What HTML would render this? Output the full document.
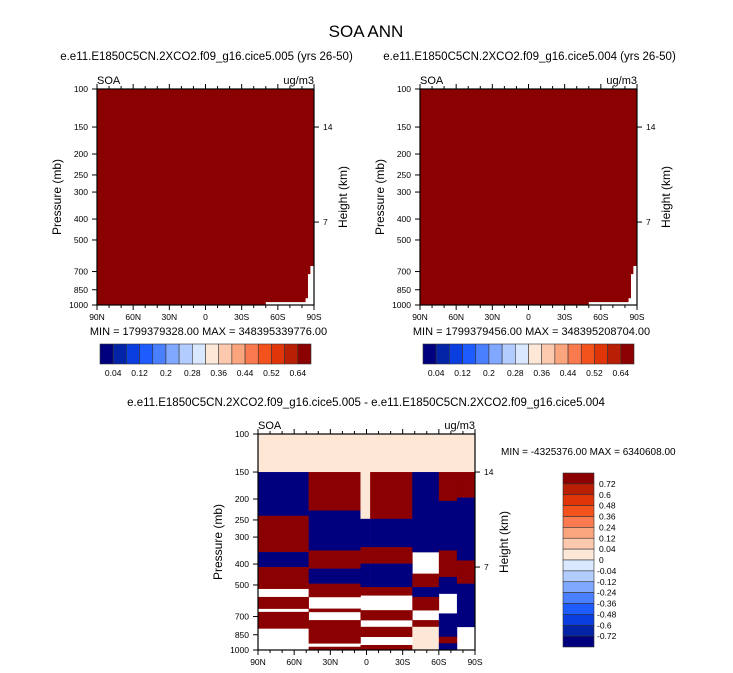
<!DOCTYPE html>
<html><head><meta charset="utf-8"><style>
html,body{margin:0;padding:0;background:#fff;}
svg{display:block;font-family:"Liberation Sans",sans-serif;}
</style></head><body>
<svg id="chart" width="733" height="673" viewBox="0 0 733 673" xmlns="http://www.w3.org/2000/svg">
<text x="366" y="37" font-size="17" text-anchor="middle">SOA ANN</text>
<g id="g"></g>
</svg>
<script>
// ---- data ----
const colors = ["#00007f","#0424a8","#0a3ee0","#1f5cff","#4a80ff","#80a8ff","#b3ccff","#d9e8ff","#fde8d8","#fcc8ae","#fba57e","#f97a4e","#f4521c","#e03509","#b81f04","#8b0000"];
const topLabels = ["0.04","0.12","0.2","0.28","0.36","0.44","0.52","0.64"];
const diffLabels = ["0.72","0.6","0.48","0.36","0.24","0.12","0.04","0","-0.04","-0.12","-0.24","-0.36","-0.48","-0.6","-0.72"];
const pTicks = [100,150,200,250,300,400,500,700,850,1000];
const latTicks = [90,60,30,0,-30,-60,-90];
const latTickLabels = ["90N","60N","30N","0","30S","60S","90S"];
const heightTicks = ["14","7"];
const heightTickP = [150,413];
const missingWedgeLat = [-90,-87,-87,-85,-85,-83,-83,-50,-50,-90];
const missingWedgeP = [660,660,720,720,930,930,970,970,1000,1000];
const diffLatEdges = [90,48,5,-3,-38,-60,-75,-90];
const diffCols = [
 [[100,150,0.02],[150,239,-0.8],[239,352,0.8],[352,413,-0.8],[413,520,0.8],[520,568,null],[568,643,0.8],[643,666,null],[666,794,0.8],[794,1000,null]],
 [[100,150,0.02],[150,226,0.8],[226,346,-0.8],[346,420,0.8],[420,493,-0.8],[493,568,0.8],[568,643,null],[643,666,0.8],[666,727,null],[727,931,0.8],[931,966,null],[966,1000,0.8]],
 [[100,150,0.02],[150,247,0.02],[247,334,-0.8],[334,398,0.8],[398,511,-0.8],[511,558,0.8],[558,654,null],[654,727,0.8],[727,781,null],[781,868,0.8],[868,948,null],[948,1000,0.8]],
 [[100,150,0.02],[150,247,0.8],[247,334,-0.8],[334,398,0.8],[398,511,-0.8],[511,558,0.8],[558,654,null],[654,727,0.8],[727,781,null],[781,868,0.8],[868,948,null],[948,1000,0.8]],
 [[100,150,0.02],[150,352,-0.8],[352,443,null],[443,511,0.8],[511,568,-0.8],[568,654,0.8],[654,727,null],[727,781,0.8],[781,1000,0.02]],
 [[100,150,0.02],[150,204,0.8],[204,346,-0.8],[346,459,0.8],[459,548,-0.8],[548,677,null],[677,868,-0.8],[868,931,0.8],[931,1000,-0.8]],
 [[100,150,0.02],[150,197,0.8],[197,385,-0.8],[385,493,0.8],[493,781,-0.8],[781,1000,null]]
];
const diffLevels = [-0.72,-0.6,-0.48,-0.36,-0.24,-0.12,-0.04,0,0.04,0.12,0.24,0.36,0.48,0.6,0.72];

// ---- drawing ----
const NS="http://www.w3.org/2000/svg";
const G=document.getElementById('g');
function el(t,a,p){const e=document.createElementNS(NS,t);for(const k in a)e.setAttribute(k,a[k]);(p||G).appendChild(e);return e;}
function txt(x,y,s,size,anchor,p){const e=el('text',{x:x,y:y,'font-size':size,'text-anchor':anchor||'middle'},p);e.textContent=s;return e;}
function colorFor(v){if(v===null)return null;let i=0;while(i<diffLevels.length&&v>diffLevels[i])i++;return colors[i];}

function panel(ox,oy,name){
  const W=217,H=216;
  const xs=lat=>ox+(90-lat)/180*W;
  const ys=p=>oy+Math.log10(p/100)*H;
  const grp=el('g',{});
  
  
  return {W,H,xs,ys,grp,ox,oy};
}
function axes(P){
  const {W,H,xs,ys,grp,ox,oy}=P;
  el('rect',{x:ox,y:oy,width:W,height:H,fill:'none',stroke:'#000','stroke-width':1.2},grp);
  for(let lat=90;lat>=-90;lat-=10){
    const x=xs(lat),maj=lat%30===0,l=maj?5:3;
    el('line',{x1:x,y1:oy,x2:x,y2:oy-l,stroke:'#000'},grp);
    el('line',{x1:x,y1:oy+H,x2:x,y2:oy+H+l,stroke:'#000'},grp);
  }
  latTicks.forEach((lat,i)=>{const t=txt(xs(lat),oy+H+15,latTickLabels[i],8.5,'middle',grp);
    
    });
  pTicks.forEach(p=>{const y=ys(p);el('line',{x1:ox,y1:y,x2:ox-5,y2:y,stroke:'#000'},grp);
    const t=txt(ox-9,y+3,String(p),8.5,'end',grp);
    
    });
  heightTicks.forEach((h,i)=>{const y=ys(heightTickP[i]);el('line',{x1:ox+W,y1:y,x2:ox+W+5,y2:y,stroke:'#000'},grp);
    const t=txt(ox+W+9,y+3,h,8.5,'start',grp);
    
    });
  const l=txt(ox,oy-5,'SOA',11,'start',grp);
  
  
  const u=txt(ox+W,oy-5,'ug/m3',11,'end',grp);
  
  
  const yt=txt(0,0,'Pressure (mb)',12,'middle',grp);
  yt.setAttribute('transform','translate('+(ox-36)+','+(oy+H/2)+') rotate(-90)');
  
  
  const ht=txt(0,0,'Height (km)',12,'middle',grp);
  ht.setAttribute('transform','translate('+(ox+W+33)+','+(oy+H/2)+') rotate(-90)');
  
  
}
function topPanel(ox,oy,title,minmax,name){
  const P=panel(ox,oy,name);
  const f=el('rect',{x:ox,y:oy,width:P.W,height:P.H,fill:colors[15]},P.grp);
  
  
  const pts=missingWedgeLat.map((lat,i)=>P.xs(lat)+','+P.ys(missingWedgeP[i])).join(' ');
  const w=el('polygon',{points:pts,fill:'#fff'},P.grp);
  
  
  axes(P);
  const t=txt(ox+P.W/2+1,oy-29,title,11.5,'middle',P.grp);
  
  
  const m=txt(ox+P.W/2+3,oy+P.H+30,minmax,11,'middle',P.grp);
  
  
  const cb=el('g',{},P.grp);
  
  
  const bx=ox+3,by=oy+P.H+39,bw=211/16;
  colors.forEach((c,i)=>{const r=el('rect',{x:bx+i*bw,y:by,width:bw,height:20,fill:c,stroke:'#333','stroke-width':0.6},cb);
    
    });
  topLabels.forEach((s,i)=>{const t=txt(bx+(2*i+1)*bw,by+32,s,8.5,'middle',cb);
    
    });
}
topPanel(97,89,'e.e11.E1850C5CN.2XCO2.f09_g16.cice5.005 (yrs 26-50)','MIN = 1799379328.00  MAX = 348395339776.00','left-panel');
topPanel(420,89,'e.e11.E1850C5CN.2XCO2.f09_g16.cice5.004 (yrs 26-50)','MIN = 1799379456.00  MAX = 348395208704.00','right-panel');

const D=panel(258,434,'difference-panel');
diffCols.forEach((col,ci)=>{
  const x0=D.xs(diffLatEdges[ci]),x1=D.xs(diffLatEdges[ci+1]);
  col.forEach(seg=>{
    const c=colorFor(seg[2]); if(!c) return;
    const r=el('rect',{x:x0,y:D.ys(seg[0]),width:x1-x0+0.3,height:D.ys(seg[1])-D.ys(seg[0])+0.3,fill:c},D.grp);
    
    
  });
});
axes(D);
const dt=txt(366,406,'e.e11.E1850C5CN.2XCO2.f09_g16.cice5.005 - e.e11.E1850C5CN.2XCO2.f09_g16.cice5.004',11.5,'middle',D.grp);


const dm=txt(501,455,'MIN = -4325376.00  MAX = 6340608.00',10,'start',D.grp);


const vcb=el('g',{});


const vx=563,vy=473,vh=174/16;
colors.slice().reverse().forEach((c,i)=>{const r=el('rect',{x:vx,y:vy+i*vh,width:31,height:vh,fill:c,stroke:'#333','stroke-width':0.6},vcb);
  
  });
diffLabels.forEach((s,i)=>{const t=txt(s[0]==='-'?597:599,vy+(i+1)*vh+3,s,8.5,'start',vcb);
  
  });
</script>
</body></html>
